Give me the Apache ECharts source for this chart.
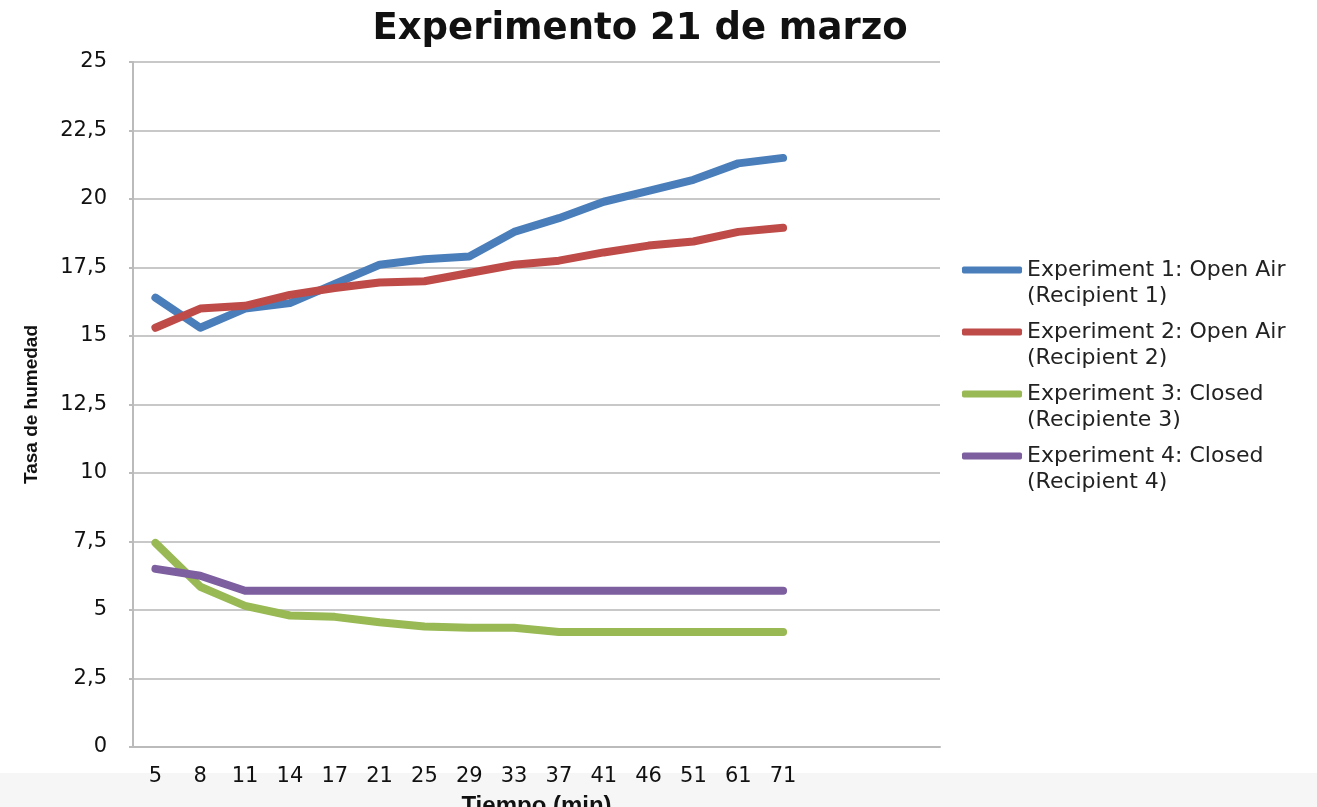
<!DOCTYPE html>
<html>
<head>
<meta charset="utf-8">
<script src="https://cdn.jsdelivr.net/npm/echarts@6/dist/echarts.min.js"></script>
<style>
html,body{margin:0;padding:0;background:#fff;}
#band{position:absolute;left:0;top:773px;width:1317px;height:34px;background:#f6f6f6;}
#chart{position:absolute;left:0;top:0;width:1317px;height:807px;}
</style>
</head>
<body>
<div id="band"></div>
<div id="chart"></div>
<script>
var tiempo=['5','8','11','14','17','21','25','29','33','37','41','46','51','61','71','','',''];
var exp1=[16.4,15.3,16.0,16.2,16.9,17.6,17.8,17.9,18.8,19.3,19.9,20.3,20.7,21.3,21.5];
var exp2=[15.3,16.0,16.1,16.5,16.75,16.95,17.0,17.3,17.6,17.75,18.05,18.3,18.45,18.8,18.95];
var exp3=[7.45,5.85,5.15,4.8,4.75,4.55,4.4,4.35,4.35,4.2,4.2,4.2,4.2,4.2,4.2];
var exp4=[6.5,6.25,5.7,5.7,5.7,5.7,5.7,5.7,5.7,5.7,5.7,5.7,5.7,5.7,5.7];
var nombres=['Experiment 1: Open Air\n(Recipient 1)','Experiment 2: Open Air\n(Recipient 2)','Experiment 3: Closed\n(Recipiente 3)','Experiment 4: Closed\n(Recipient 4)'];
var colores=['#4a7ebb','#be4b48','#98b954','#7d5fa0'];

var chart=echarts.init(document.getElementById('chart'));

function linea(i,data){
    return {
        name:nombres[i],
        type:'line',
        data:data,
        symbol:'none',
        itemStyle:{color:colores[i]},
        lineStyle:{width:8,color:colores[i],cap:'round',join:'round'}
    };
}

var option={
    backgroundColor:'transparent',
    animation:false,
    title:{
        text:'Experimento 21 de marzo',
        left:635,
        textAlign:'center',
        top:6,
        textStyle:{fontFamily:'DejaVu Sans',fontWeight:'bold',fontSize:37,color:'#111'}
    },
    legend:{
        orient:'vertical',
        left:957,
        top:226,
        itemWidth:60,
        itemHeight:7,
        itemGap:-16,
        icon:'roundRect',
        formatter:function(n){return '\n'+n;},
        textStyle:{fontFamily:'DejaVu Sans',fontSize:22,color:'#222',lineHeight:26},
        data:nombres
    },
    grid:{left:133,right:377,top:62,bottom:60,containLabel:false,outerBoundsMode:'none'},
    xAxis:{
        type:'category',
        boundaryGap:true,
        data:tiempo,
        name:'Tiempo (min)',
        nameLocation:'middle',
        nameGap:47,
        nameTextStyle:{fontFamily:'Liberation Sans',fontWeight:'bold',fontSize:24,color:'#111'},
        axisLine:{lineStyle:{color:'#bbb',width:2}},
        axisTick:{show:false},
        axisLabel:{interval:0,margin:19,fontFamily:'DejaVu Sans',fontSize:21,color:'#111'},
        splitLine:{show:false}
    },
    yAxis:{
        type:'value',
        min:0,
        max:25,
        interval:2.5,
        name:'Tasa de humedad',
        nameLocation:'middle',
        nameGap:92,
        nameTextStyle:{fontFamily:'Liberation Sans',fontWeight:'bold',fontSize:19,color:'#111'},
        axisLine:{show:true,lineStyle:{color:'#bbb',width:2}},
        axisTick:{show:true,length:4,lineStyle:{color:'#bbb',width:2}},
        axisLabel:{
            margin:26,
            fontFamily:'DejaVu Sans',
            fontSize:21,
            color:'#111',
            formatter:function(v){return String(v).replace('.',',');}
        },
        splitLine:{lineStyle:{color:'#c8c8c8',width:2}}
    },
    series:[linea(0,exp1),linea(1,exp2),linea(2,exp3),linea(3,exp4)]
};
chart.setOption(option);
</script>
</body>
</html>
